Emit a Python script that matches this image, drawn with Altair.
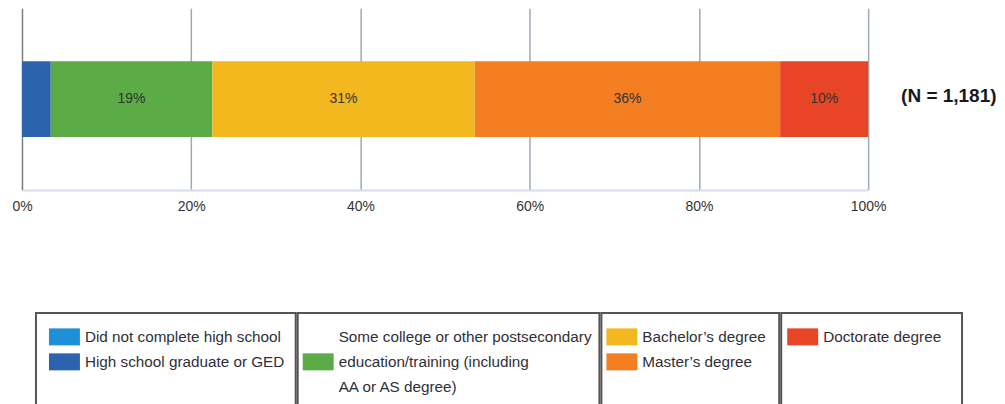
import altair as alt
import pandas as pd

# ---- data ----
categories = [
    "Did not complete high school",
    "High school graduate or GED",
    "Some college or other postsecondary education/training (including AA or AS degree)",
    "Bachelor’s degree",
    "Master’s degree",
    "Doctorate degree",
]
shares = [0.0, 3.4, 19.1, 31.0, 36.1, 10.4]
colors = ["#1f8fd8", "#2b63ad", "#5bab46", "#f2b81e", "#f47e22", "#e84426"]
x_ticks = [0, 20, 40, 60, 80, 100]
sample_note = "(N = 1,181)"

# legend boxes: which categories share a box, and wrapped label lines
legend_groups = [[0, 1], [2], [3, 4], [5]]
legend_wrapped = {
    2: ["Some college or other postsecondary", "education/training (including", "AA or AS degree)"],
}

FONT = "Liberation Sans"
TEXT = "#2f2f3a"

df = pd.DataFrame({
    "cat": categories,
    "share": shares,
    "order": list(range(len(categories))),
    "row": ["all"] * len(categories),
})

color_scale = alt.Scale(domain=categories, range=colors)

x_enc = alt.X(
    "share:Q",
    stack="zero",
    scale=alt.Scale(domain=[0, 100], nice=False),
    axis=alt.Axis(
        values=x_ticks,
        labelExpr="datum.value + '%'",
        labelFlush=False,
        title=None,
        grid=True,
        ticks=False,
        domainColor="#d6deea",
        domainWidth=2,
        labelFontSize=14,
        labelColor="#333333",
        labelPadding=9,
        gridColor={"condition": {"test": "datum.value === 0", "value": "#7d7d7d"}, "value": "#9ea9b6"},
        gridWidth=1.5,
    ),
)

bars = alt.Chart(df).mark_bar(size=76).encode(
    x=x_enc,
    y=alt.Y("row:N", axis=None),
    color=alt.Color("cat:N", scale=color_scale, legend=None),
    order=alt.Order("order:Q"),
)

labels = (
    alt.Chart(df)
    .transform_stack(stack="share", groupby=["row"], as_=["x0", "x1"], sort=[alt.SortField("order")])
    .transform_calculate(mid="(datum.x0 + datum.x1) / 2", label="round(datum.share) + '%'")
    .transform_filter("datum.share >= 5")
    .mark_text(fontSize=14, color="#333333")
    .encode(x="mid:Q", y=alt.Y("row:N", axis=None), text="label:N")
)

note = (
    alt.Chart(pd.DataFrame({"note": [sample_note], "row": ["all"]}))
    .mark_text(align="left", dx=33, dy=-3, fontSize=19, fontWeight="bold", color="#1a1a1a")
    .encode(x=alt.datum(100), y=alt.Y("row:N", axis=None), text="note:N")
)

main = alt.layer(bars, labels, note).properties(width=847, height=182)

# ---- boxed legend ----
col_widths = [260, 302, 178, 181]
swatch_left = [13, 5, 5, 6]
panels = []
for ci, group in enumerate(legend_groups):
    rows = []
    line = 0
    for idx in group:
        lines = legend_wrapped.get(idx, [categories[idx]])
        rows.append({
            "cat": categories[idx],
            "label": lines,
            "first": line,
            "mid": line + (len(lines) - 1) / 2,
        })
        line += len(lines)
    ldf = pd.DataFrame(rows)
    yscale = alt.Scale(domain=[-0.96, 3.04], reverse=True, nice=False, zero=False)
    sw = alt.Chart(ldf).mark_tick(orient="horizontal", thickness=17, size=31, opacity=1).encode(
        x=alt.value(swatch_left[ci] + 15.5),
        y=alt.Y("mid:Q", axis=None, scale=yscale),
        color=alt.Color("cat:N", scale=color_scale, legend=None),
    )
    tx = alt.Chart(ldf).mark_text(align="left", baseline="middle", fontSize=15.3, lineHeight=25,
                                  color=TEXT).encode(
        x=alt.value(swatch_left[ci] + 36),
        y=alt.Y("first:Q", axis=None, scale=yscale),
        text="label:N",
    )
    panels.append(
        alt.layer(sw, tx).properties(
            width=col_widths[ci], height=100,
            view=alt.ViewBackground(stroke="#555555", strokeWidth=2),
        )
    )

spacer = alt.Chart(pd.DataFrame({"a": [0]})).mark_text(text="").encode(
    x=alt.value(0), y=alt.value(0)
).properties(width=13, height=100)

legend = alt.hconcat(spacer, *panels, spacing=0)

chart = (
    alt.vconcat(main, legend, spacing=94)
    .properties(padding={"left": 3, "top": 0, "right": 0, "bottom": 0})
    .configure(font=FONT)
    .configure_view(stroke=None)
)

chart.save("out.html", embed_options={"renderer": "svg", "actions": False})
